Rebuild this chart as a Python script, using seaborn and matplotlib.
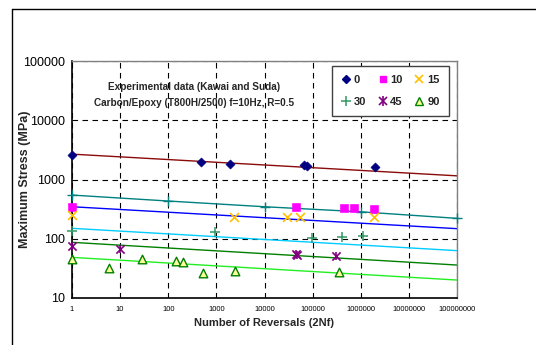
import matplotlib
matplotlib.use("Agg")
import matplotlib.pyplot as plt
from matplotlib.lines import Line2D
from matplotlib.ticker import LogLocator, FuncFormatter, NullFormatter
import seaborn as sns

# measured points per fibre angle (cycles = reversals 2Nf, stress in MPa)
cycles_0 = [1, 470, 1900, 66000, 76000, 1960000]
stress_0 = [2610, 1960, 1820, 1750, 1680, 1620]
cycles_10 = [1, 44400, 440000, 710000, 1930000]
stress_10 = [347, 347, 333, 333, 321]
cycles_15 = [1, 2300, 29300, 54600, 1930000]
stress_15 = [251, 235, 230, 230, 230]
cycles_30 = [1, 940, 96800, 413000, 1120000]
stress_30 = [136, 130, 103, 107, 110]
cycles_45 = [1, 10, 45000, 47000, 310000]
stress_45 = [76, 67, 55, 54, 52]
cycles_90 = [1, 6, 29, 144, 198, 515, 2450, 346000]
stress_90 = [46, 32.5, 45, 42, 40, 26.7, 28.2, 27]

# fitted lines, end values at N=1 and N=1e8
trend_n = [1, 1e8]
trend_brown = [2680, 1153]
trend_blue = [347, 148]
trend_cyan = [150, 63]
trend_darkgreen = [87, 36]
trend_green = [48.5, 20.1]
teal_n = [1, 1e2, 1e4, 1e6, 1e8]
teal_s = [546, 433, 347, 285, 221]

x_ticks = [1, 10, 100, 1000, 10000, 100000, 1000000, 10000000, 100000000]
y_ticks = [10, 100, 1000, 10000, 100000]

sns.set_style("white")
plt.rcParams["font.family"] = ["Liberation Sans", "DejaVu Sans"]

fig = plt.figure(figsize=(5.36, 3.45), dpi=100)
ax = fig.add_axes([72 / 536, 47 / 345, 385 / 536, 237 / 345])
ax.set_xscale("log")
ax.set_yscale("log")

# trend lines
for vals, col in [(trend_brown, "#8b0a0a"), (trend_blue, "#0000ff"),
                  (trend_cyan, "#00ccff"), (trend_darkgreen, "#008000"),
                  (trend_green, "#22ee22")]:
    sns.lineplot(x=trend_n, y=vals, color=col, lw=1.0, ax=ax)
sns.lineplot(x=teal_n, y=teal_s, color="#008080", lw=1.0, ax=ax)
sns.scatterplot(x=teal_n, y=teal_s, marker="+", s=45, color="#008080",
                linewidth=1.0, ax=ax, clip_on=False, zorder=4)

# data points
pts = dict(ax=ax, zorder=5, clip_on=False)
sns.scatterplot(x=cycles_0, y=stress_0, marker="D", s=22, color="#000080",
                edgecolor="#000080", **pts)
sns.scatterplot(x=cycles_10, y=stress_10, marker="s", s=30, color="#ff00ff",
                edgecolor="#ff00ff", **pts)
sns.scatterplot(x=cycles_15, y=stress_15, marker="x", s=40, color="#ffc000",
                linewidth=1.2, **pts)
sns.scatterplot(x=cycles_30, y=stress_30, marker="+", s=50, color="#339966",
                linewidth=1.1, **pts)
sns.scatterplot(x=cycles_45, y=stress_45, marker="x", s=35, color="#800080",
                linewidth=1.2, **pts)
sns.scatterplot(x=cycles_45, y=stress_45, marker="|", s=40, color="#800080",
                linewidth=1.2, **pts)
sns.scatterplot(x=cycles_90, y=stress_90, marker="^", s=38, color="#ffff99",
                edgecolor="#008000", linewidth=1.0, **pts)

ax.set_xlim(1, 1e8)
ax.set_ylim(10, 1e5)
ax.set_xticks(x_ticks)
ax.set_yticks(y_ticks)
fmt = FuncFormatter(lambda v, p: "%d" % round(v))
ax.xaxis.set_major_formatter(fmt)
ax.yaxis.set_major_formatter(fmt)
ax.xaxis.set_minor_locator(LogLocator(base=10, subs=range(2, 10), numticks=20))
ax.yaxis.set_minor_locator(LogLocator(base=10, subs=range(2, 10), numticks=20))
ax.xaxis.set_minor_formatter(NullFormatter())
ax.yaxis.set_minor_formatter(NullFormatter())
ax.tick_params(axis="x", which="major", direction="in", length=5, width=0.8,
               labelsize=5.5, pad=6, colors="black")
ax.tick_params(axis="y", which="major", direction="in", length=5, width=0.8,
               labelsize=9, pad=5, colors="black")
ax.tick_params(which="minor", direction="in", length=3, width=0.6)

ax.grid(True, which="major", color="black", linestyle=(0, (5, 4)), lw=0.8)
ax.set_axisbelow(True)
for side in ["left", "bottom"]:
    ax.spines[side].set_color("black")
    ax.spines[side].set_linewidth(1.2)
for side in ["top", "right"]:
    ax.spines[side].set_color("#808080")
    ax.spines[side].set_linewidth(1.0)

ax.set_xlabel("Number of Reversals (2Nf)", fontsize=8, fontweight="bold")
ax.set_ylabel("Maximum Stress (MPa)", fontsize=9, fontweight="bold")
ax.xaxis.set_label_coords(0.5, -20 / 237)
ax.yaxis.set_label_coords(-41 / 385, 0.5)

ax.text(0.317, 0.892, "Experimental data (Kawai and Suda)", transform=ax.transAxes,
        ha="center", va="center", fontsize=7.2, fontweight="bold")
ax.text(0.317, 0.821, "Carbon/Epoxy (T800H/2500) f=10Hz, R=0.5",
        transform=ax.transAxes, ha="center", va="center", fontsize=7.2,
        fontweight="bold")

# legend, filled column by column so rows read 0 10 15 / 30 45 90
h0 = Line2D([], [], ls="", marker="D", ms=4, color="#000080")
h10 = Line2D([], [], ls="", marker="s", ms=5, color="#ff00ff")
h15 = Line2D([], [], ls="", marker="x", ms=6, mew=1.2, color="#ffc000")
h30 = Line2D([], [], ls="", marker="+", ms=7, mew=1.1, color="#339966")
h45 = (Line2D([], [], ls="", marker="x", ms=6, mew=1.2, color="#800080"),
       Line2D([], [], ls="", marker="|", ms=7, mew=1.2, color="#800080"))
h90 = Line2D([], [], ls="", marker="^", ms=6, mfc="#ffff99", mec="#008000")
leg = ax.legend([h0, h30, h10, h45, h15, h90], ["0", "30", "10", "45", "15", "90"],
                ncol=3, loc="upper right", bbox_to_anchor=(0.978, 0.978),
                frameon=True, fancybox=False, framealpha=1, edgecolor="#404040",
                prop={"size": 8, "weight": "bold"}, handlelength=0.8,
                handletextpad=0.3, columnspacing=1.1, labelspacing=1.1,
                borderpad=0.8, borderaxespad=0)
leg.get_frame().set_linewidth(1.0)
leg.set_zorder(10)

# figure frame (left and top edge visible)
fig.add_artist(Line2D([11.5 / 536, 11.5 / 536], [0, 1 - 8.5 / 345],
                      transform=fig.transFigure, color="black", lw=1))
fig.add_artist(Line2D([11.5 / 536, 1], [1 - 8.5 / 345, 1 - 8.5 / 345],
                      transform=fig.transFigure, color="black", lw=1))

fig.savefig("out.png", dpi=100)
plt.close(fig)
